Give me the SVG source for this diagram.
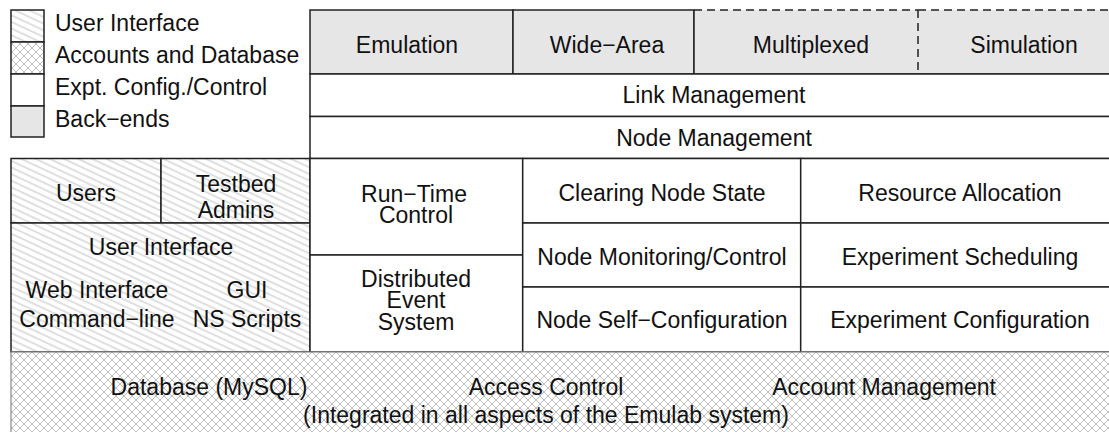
<svg xmlns="http://www.w3.org/2000/svg" width="1109" height="432" viewBox="0 0 1109 432">
<defs>
<pattern id="hatch" patternUnits="userSpaceOnUse" width="6" height="6" patternTransform="rotate(25)">
<rect width="6" height="6" fill="#fff"/>
<line x1="0" y1="3" x2="6" y2="3" stroke="#b0b0b0" stroke-width="0.8"/>
</pattern>
<pattern id="cross" patternUnits="userSpaceOnUse" width="8" height="8">
<rect width="8" height="8" fill="#fff"/>
<path d="M0,0 L8,8 M8,0 L0,8" stroke="#b8b8b8" stroke-width="0.9"/>
</pattern>
</defs>
<style>
text{font-family:"Liberation Sans",Arial,sans-serif;font-size:23px;fill:#111;text-anchor:middle}
text.l{text-anchor:start}
.b{stroke:#222;stroke-width:1.5}
.ui{fill:url(#hatch)}
.db{fill:url(#cross)}
.ex{fill:#fff}
.be{fill:#e6e6e6}
.d{stroke:#222;stroke-width:1.5;stroke-dasharray:8 5;fill:none}
</style>
<g id="legend">
<rect class="ui b" x="11" y="10" width="33" height="32"/>
<rect class="db b" x="11" y="42" width="33" height="32"/>
<rect class="ex b" x="11" y="74" width="33" height="32"/>
<rect class="be b" x="11" y="106" width="33" height="31"/>
<text class="l" x="55" y="31">User Interface</text>
<text class="l" x="55" y="63">Accounts and Database</text>
<text class="l" x="55" y="95">Expt. Config./Control</text>
<text class="l" x="55" y="127">Back−ends</text>
</g>
<g id="emulation">
<rect class="be b" x="310" y="10" width="203" height="64"/>
<text x="407" y="53">Emulation</text>
</g>
<g id="wide-area">
<rect class="be b" x="513" y="10" width="181" height="64"/>
<text x="607" y="53">Wide−Area</text>
</g>
<g id="multiplexed">
<rect class="be" x="694" y="10" width="224" height="64"/>
<line class="d" x1="694" y1="10" x2="918" y2="10"/>
<line class="b" x1="694" y1="10" x2="694" y2="74"/>
<line class="b" x1="694" y1="74" x2="918" y2="74"/>
<text x="811" y="53">Multiplexed</text>
</g>
<g id="simulation">
<rect class="be" x="918" y="10" width="200" height="64"/>
<line class="d" x1="918" y1="10" x2="1118" y2="10"/>
<line class="d" x1="918" y1="10" x2="918" y2="74"/>
<line class="b" x1="918" y1="74" x2="1118" y2="74"/>
<text x="1024" y="53">Simulation</text>
</g>
<g id="link-management">
<rect class="ex b" x="310" y="74" width="808" height="42.5"/>
<text x="714" y="103">Link Management</text>
</g>
<g id="node-management">
<rect class="ex b" x="310" y="116.5" width="808" height="42"/>
<text x="714" y="146">Node Management</text>
</g>
<g id="users">
<rect class="ui b" x="11" y="158.5" width="150" height="64.5"/>
<text x="86" y="201">Users</text>
</g>
<g id="testbed-admins">
<rect class="ui b" x="161" y="158.5" width="149" height="64.5"/>
<text x="236" y="192">Testbed</text>
<text x="236" y="218">Admins</text>
</g>
<g id="user-interface">
<rect class="ui b" x="11" y="223" width="299" height="129"/>
<text x="161" y="255">User Interface</text>
<text x="97" y="298">Web Interface</text>
<text x="247" y="298">GUI</text>
<text x="97" y="327">Command−line</text>
<text x="247" y="327">NS Scripts</text>
</g>
<g id="run-time-control">
<rect class="ex b" x="310" y="158.5" width="212.7" height="96.5"/>
<text x="414" y="202">Run−Time</text>
<text x="416" y="223">Control</text>
</g>
<g id="distributed-event-system">
<rect class="ex b" x="310" y="255" width="212.7" height="97"/>
<text x="416" y="287">Distributed</text>
<text x="416" y="308">Event</text>
<text x="416" y="330">System</text>
</g>
<g id="clearing-node-state">
<rect class="ex b" x="522.7" y="158.5" width="278" height="64.5"/>
<text x="662" y="201">Clearing Node State</text>
</g>
<g id="node-monitoring">
<rect class="ex b" x="522.7" y="223" width="278" height="64"/>
<text x="662" y="265">Node Monitoring/Control</text>
</g>
<g id="node-self-configuration">
<rect class="ex b" x="522.7" y="287" width="278" height="65"/>
<text x="662" y="328">Node Self−Configuration</text>
</g>
<g id="resource-allocation">
<rect class="ex b" x="800.7" y="158.5" width="317.3" height="64.5"/>
<text x="960" y="201">Resource Allocation</text>
</g>
<g id="experiment-scheduling">
<rect class="ex b" x="800.7" y="223" width="317.3" height="64"/>
<text x="960" y="265">Experiment Scheduling</text>
</g>
<g id="experiment-configuration">
<rect class="ex b" x="800.7" y="287" width="317.3" height="65"/>
<text x="960" y="328">Experiment Configuration</text>
</g>
<g id="database">
<rect class="db" x="11" y="352" width="1107" height="90" stroke="#888" stroke-width="1.2"/>
<text x="209" y="395">Database (MySQL)</text>
<text x="546" y="395">Access Control</text>
<text x="884" y="395">Account Management</text>
<text x="546" y="423">(Integrated in all aspects of the Emulab system)</text>
</g>
</svg>
